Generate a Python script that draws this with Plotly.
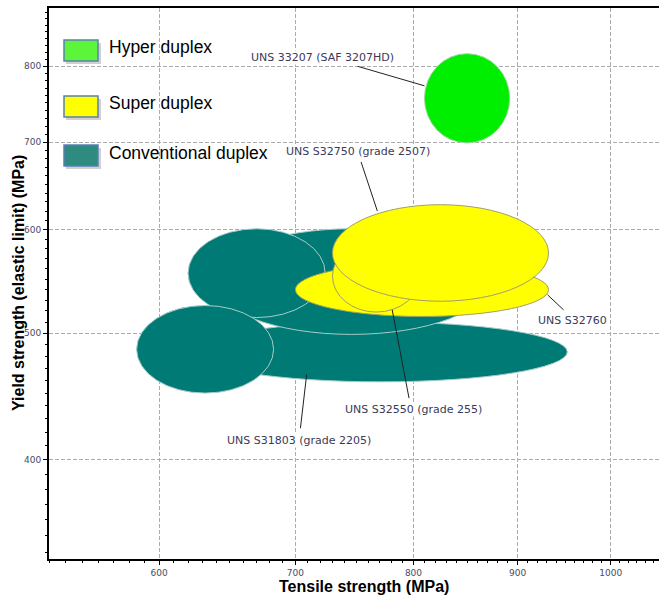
import numpy as np
import plotly.graph_objects as go

# ---------------- data (MPa) ----------------
# property envelopes, drawn in this order (later ones on top)
family = ["Conventional duplex", "Conventional duplex", "Conventional duplex", "Conventional duplex",
          "Super duplex", "Super duplex", "Super duplex", "Hyper duplex"]
tensile_min = [624, 638, 620, 585, 700, 730, 730, 810]
tensile_max = [952, 872, 724, 683, 932, 806, 932, 892]
yield_min = [459, 499, 514, 450, 515, 519, 529, 699]
yield_max = [510, 601, 601, 525, 566, 589, 627, 818]

# labels (text position = centre) and leader lines
label_text = ["UNS 33207 (SAF 3207HD)", "UNS S32750 (grade 2507)", "UNS S32760",
              "UNS S32550 (grade 255)", "UNS S31803 (grade 2205)"]
label_x = [722, 751, 958, 800, 703]
label_y = [813, 689, 511, 437, 414]
leader_x0 = [751, 754, 931, 781, 704]
leader_y0 = [800, 676, 535, 521, 423]
leader_x1 = [810, 768, 948, 796, 709]
leader_y1 = [773, 620, 521, 446, 465]

# axis ticks
x_ticks = [600, 700, 800, 900, 1000]
y_ticks = [400, 500, 600, 700, 800]
x_range = [529.8, 1056]
y_range = [336, 886.5]

x_title = "Tensile strength (MPa)"
y_title = "Yield strength (elastic limit) (MPa)"
legend_names = ["Hyper duplex", "Super duplex", "Conventional duplex"]

# ---------------- styles ----------------
fill_col = {"Conventional duplex": "#007A74", "Super duplex": "#FFFF00", "Hyper duplex": "#00EE00"}
line_col = {"Conventional duplex": "#A6CCC8", "Super duplex": "#A09F6A", "Hyper duplex": "#9FD89F"}
legend_fill = {"Hyper duplex": "#5CF53A", "Super duplex": "#FFFF00", "Conventional duplex": "#2E8B80"}

W, H = 659, 598
ML, MR, MT, MB = 49, 0, 8, 39
PW, PH = W - ML - MR, H - MT - MB

def px2paper_x(px):
    return (px - ML) / PW

def py2paper_y(py):
    return (H - MB - py) / PH

FONT = "Liberation Sans, Arial, sans-serif"
SMALL_FONT = "DejaVu Sans, Verdana, sans-serif"

fig = go.Figure()

shapes = []
for f, x0, x1, y0, y1 in zip(family, tensile_min, tensile_max, yield_min, yield_max):
    shapes.append(dict(type="circle", xref="x", yref="y", x0=x0, x1=x1, y0=y0, y1=y1,
                       fillcolor=fill_col[f], line=dict(color=line_col[f], width=1), layer="above"))

for x0, y0, x1, y1 in zip(leader_x0, leader_y0, leader_x1, leader_y1):
    shapes.append(dict(type="line", xref="x", yref="y", x0=x0, y0=y0, x1=x1, y1=y1,
                       line=dict(color="#222222", width=1), layer="above"))

# hover helper trace at envelope centres
cx = [np.sqrt(a * b) for a, b in zip(tensile_min, tensile_max)]
cy = [np.sqrt(a * b) for a, b in zip(yield_min, yield_max)]
fig.add_trace(go.Scatter(x=cx, y=cy, mode="markers", marker=dict(opacity=0, size=20),
                         text=family, hoverinfo="text", showlegend=False))

annotations = []
for t, x, y in zip(label_text, label_x, label_y):
    annotations.append(dict(x=np.log10(x), y=np.log10(y), xref="x", yref="y", text=t,
                            showarrow=False, xanchor="center", yanchor="middle",
                            font=dict(family=SMALL_FONT, size=11, color="#3A3A58"),
                            bgcolor="white", borderpad=0))

# manual legend
leg_top = [40, 96, 145]
for name, top in zip(legend_names, leg_top):
    shapes.append(dict(type="rect", xref="paper", yref="paper",
                       x0=px2paper_x(66), x1=px2paper_x(101), y0=py2paper_y(top + 24), y1=py2paper_y(top + 3),
                       fillcolor="rgba(120,120,120,0.35)", line=dict(width=0), layer="above"))
    shapes.append(dict(type="rect", xref="paper", yref="paper",
                       x0=px2paper_x(64), x1=px2paper_x(98), y0=py2paper_y(top + 21), y1=py2paper_y(top),
                       fillcolor=legend_fill[name], line=dict(color="#5B7FB5", width=1.5), layer="above"))
    annotations.append(dict(x=px2paper_x(107), y=py2paper_y(top + 7.5), xref="paper", yref="paper",
                            text=name, showarrow=False, xanchor="left", yanchor="middle",
                            font=dict(family=FONT, size=17.5, color="black")))

# axis titles
annotations.append(dict(x=px2paper_x(364), y=py2paper_y(586), xref="paper", yref="paper",
                        text="<b>" + x_title + "</b>", showarrow=False,
                        xanchor="center", yanchor="middle",
                        font=dict(family=FONT, size=16, color="black")))
annotations.append(dict(x=px2paper_x(18), y=py2paper_y(283), xref="paper", yref="paper",
                        text="<b>" + y_title + "</b>", showarrow=False, textangle=-90,
                        xanchor="center", yanchor="middle",
                        font=dict(family=FONT, size=16, color="black")))

axis_common = dict(
    automargin=False, tickmode="array",
    ticks="outside", ticklen=4, tickcolor="black",
    tickfont=dict(family=SMALL_FONT, size=9, color="#4A4A66"),
    showline=True, linecolor="black", linewidth=2,
    showgrid=True, gridcolor="#ABABAB", griddash="4px,2px", gridwidth=1,
    zeroline=False,
)

fig.update_layout(
    width=W, height=H, margin=dict(l=ML, r=MR, t=MT, b=MB, autoexpand=False),
    paper_bgcolor="white", plot_bgcolor="white",
    shapes=shapes, annotations=annotations, showlegend=False,
    xaxis=dict(type="log", range=[np.log10(x_range[0]), np.log10(x_range[1])],
               tickvals=x_ticks, ticktext=[str(v) for v in x_ticks], mirror=True,
               minor=dict(tickmode="array",
                          tickvals=[v for v in range(530, 1060, 10) if v not in x_ticks],
                          ticks="outside", ticklen=2, tickcolor="black", showgrid=False),
               **axis_common),
    yaxis=dict(type="log", range=[np.log10(y_range[0]), np.log10(y_range[1])],
               tickvals=y_ticks, ticktext=[str(v) for v in y_ticks], mirror=False,
               minor=dict(tickmode="array",
                          tickvals=[v for v in range(340, 890, 10) if v not in y_ticks],
                          ticks="outside", ticklen=2, tickcolor="black", showgrid=False),
               **axis_common),
)

fig.write_html("out.html", config={"displayModeBar": False},
               post_script="document.body.style.margin='0';document.body.style.overflow='hidden';")
